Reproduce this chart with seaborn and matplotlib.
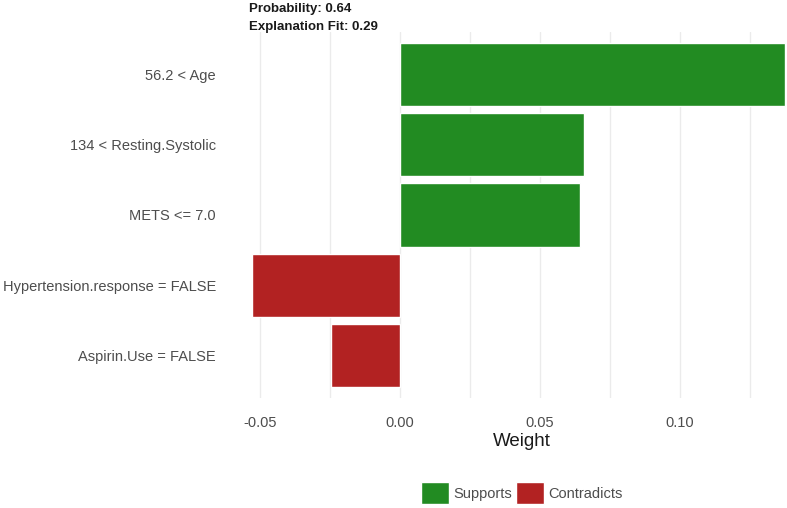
import matplotlib
matplotlib.use("Agg")
import matplotlib.pyplot as plt
import seaborn as sns
import pandas as pd
from matplotlib.ticker import MultipleLocator

features = ["56.2 < Age", "134 < Resting.Systolic", "METS <= 7.0",
            "Hypertension.response = FALSE", "Aspirin.Use = FALSE"]
weights = [0.1375, 0.0657, 0.0643, -0.0529, -0.0246]
kinds = ["Supports", "Supports", "Supports", "Contradicts", "Contradicts"]
probability = 0.64
fit = 0.29

df = pd.DataFrame({"feature": features, "weight": weights, "type": kinds})

sns.set_theme(style="white")
plt.rcParams["font.family"] = ["Liberation Sans", "DejaVu Sans"]

fig = plt.figure(figsize=(7.87, 5.08), dpi=100)
W, H = 787, 508
ax = fig.add_axes([225 / W, (H - 398) / H, (787 - 225) / W, (398 - 32) / H])

sns.barplot(data=df, y="feature", x="weight", hue="type",
            hue_order=["Supports", "Contradicts"],
            palette={"Supports": "#228B22", "Contradicts": "#B22222"},
            orient="h", width=0.9, dodge=False, ax=ax, zorder=3, saturation=1)

ax.set_xlim(-0.0624, 0.1382)
ax.set_ylim(4.6, -0.6)
ax.xaxis.set_minor_locator(MultipleLocator(0.025))
ax.set_xticks([-0.05, 0.0, 0.05, 0.10])
ax.set_xticklabels(["-0.05", "0.00", "0.05", "0.10"])
ax.grid(axis="x", which="both", color="#EBEBEB", linewidth=1.0, zorder=0)
ax.grid(axis="y", visible=False)
for s in ax.spines.values():
    s.set_visible(False)
ax.tick_params(axis="both", which="both", length=0)
ax.tick_params(axis="x", labelsize=10.5, labelcolor="#4D4D4D", pad=13)
ax.tick_params(axis="y", labelsize=10.5, labelcolor="#4D4D4D", pad=6.5)
ax.set_ylabel("")
ax.set_xlabel("Weight", fontsize=13.5, color="#1A1A1A")
ax.xaxis.set_label_coords((522 - 225) / 562, -(441 - 398) / 366)
ax.xaxis.label.set_va("center")

sns.move_legend(ax, "center", bbox_to_anchor=((522 - 225) / 562, -(493 - 398) / 366),
                ncol=2, frameon=False, title=None, fontsize=10.5,
                handlelength=1.9, handleheight=1.9, handletextpad=0.3,
                columnspacing=0.3)
for t in ax.get_legend().get_texts():
    t.set_color("#4D4D4D")

fig.text(249 / W, 1 - 9 / H, f"Probability: {probability:.2f}", fontsize=9.5,
         fontweight="bold", ha="left", va="center", color="#1A1A1A")
fig.text(249 / W, 1 - 27 / H, f"Explanation Fit: {fit:.2f}", fontsize=9.5,
         fontweight="bold", ha="left", va="center", color="#1A1A1A")

fig.savefig("out.png", dpi=100, facecolor="white")
